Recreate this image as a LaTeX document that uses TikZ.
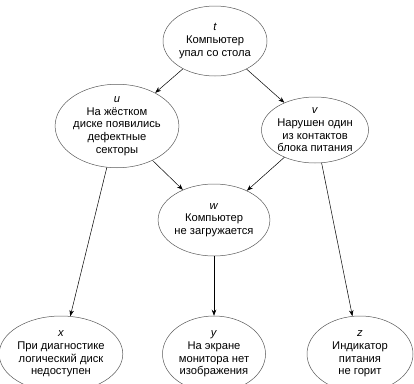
\documentclass[tikz,border=0pt]{standalone}
\usepackage{fontspec}
\setmainfont{Liberation Sans}
\usetikzlibrary{shapes.geometric,arrows.meta}
\tikzset{
  ev/.style={ellipse, draw=black!65, line width=0.5pt, inner sep=0pt, align=center,
    font=\fontsize{11.2}{12.7}\selectfont},
  arr/.style={-{Stealth[length=6pt,width=4.5pt]}, line width=0.5pt, black}
}
\begin{document}
\begin{tikzpicture}[x=1pt,y=-1pt]
\useasboundingbox (0,0) rectangle (414,383);
\clip (0,0) rectangle (414,383);
\node[ev, minimum width=104pt, minimum height=70pt] (t) at (215,41) {\textit{t}\\Компьютер\\упал со стола};
\node[ev, minimum width=110pt, minimum height=74pt] (u) at (117,126) {\textit{u}\\На жёстком\\диске появились\\дефектные\\секторы};
\node[ev, minimum width=107pt, minimum height=66pt] (v) at (315,130) {\textit{v}\\Нарушен один\\из контактов\\блока питания};
\node[ev, minimum width=106pt, minimum height=72pt] (w) at (214,220) {\textit{w}\\Компьютер\\не загружается};
\node[ev, minimum width=108pt, minimum height=76pt] (x) at (61,354) {\textit{x}\\При диагностике\\логический диск\\недоступен};
\node[ev, minimum width=103pt, minimum height=76pt] (y) at (214,354) {\textit{y}\\На экране\\монитора нет\\изображения};
\node[ev, minimum width=106pt, minimum height=76pt] (z) at (360,354) {\textit{z}\\Индикатор\\питания\\не горит};
\draw[arr] (t) -- (u);
\draw[arr] (t) -- (v);
\draw[arr] (u) -- (w);
\draw[arr] (v) -- (w);
\draw[arr] (u) -- (x);
\draw[arr] (w) -- (y);
\draw[arr] (v) -- (z);
\end{tikzpicture}
\end{document}
